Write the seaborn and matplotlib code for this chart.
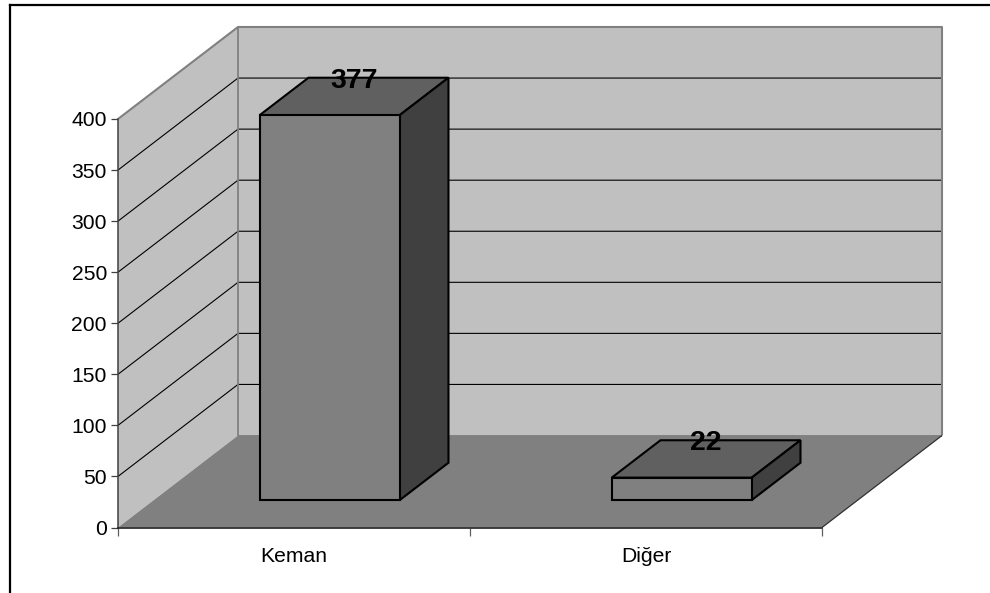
import matplotlib
matplotlib.use("Agg")
import matplotlib.pyplot as plt
from matplotlib.lines import Line2D
from matplotlib.patches import Polygon
import seaborn as sns

categories = ["Keman", "Diğer"]
values = [377, 22]
y_ticks = [0, 50, 100, 150, 200, 250, 300, 350, 400]

W, H = 990, 593
L_PX, R_PX, BOT_PX, TOP_PX = 118.0, 822.0, 527.5, 119.0
YMAX = y_ticks[-1]
PX_X = (R_PX - L_PX) / len(categories)      # px per category
PX_Y = (BOT_PX - TOP_PX) / YMAX             # px per unit
DX = 120.0 / PX_X                           # full depth in data units
DY = 92.0 / PX_Y
D_FRONT, D_BACK = 0.298, 0.704              # bar depth range
BAR_W = 140.0 / PX_X

WALL, FLOOR, FRONT, TOP, SIDE = "#C0C0C0", "#808080", "#808080", "#606060", "#404040"
EDGE = "#808080"

sns.set_theme(style="white")
plt.rcParams["font.family"] = ["Liberation Sans", "DejaVu Sans"]

fig = plt.figure(figsize=(W / 100, H / 100), dpi=100)
ax = fig.add_axes([L_PX / W, 1 - BOT_PX / H, (R_PX - L_PX) / W, (BOT_PX - TOP_PX) / H])
ax.patch.set_visible(False)


def proj(x, y, d=0.0):
    return (x + d * DX, y + d * DY)


def face(points, color, z, ec="none", lw=0.0):
    ax.add_patch(Polygon([proj(*p) for p in points], closed=True, facecolor=color,
                         edgecolor=ec, linewidth=lw, zorder=z, clip_on=False,
                         joinstyle="miter"))


def line(points, color, lw, z):
    xs, ys = zip(*[proj(*p) for p in points])
    ax.plot(xs, ys, color=color, lw=lw, zorder=z, clip_on=False, solid_capstyle="butt")


sns.barplot(x=categories, y=values, ax=ax, width=BAR_W, color=FRONT, saturation=1,
            edgecolor="black", linewidth=1.5, zorder=5)
ax.set_xlim(-0.5, len(categories) - 0.5)
ax.set_ylim(0, YMAX)

x0, x1 = ax.get_xlim()

# walls and floor
face([(x0, 0, 1), (x1, 0, 1), (x1, YMAX, 1), (x0, YMAX, 1)], WALL, 1)
face([(x0, 0, 0), (x0, 0, 1), (x0, YMAX, 1), (x0, YMAX, 0)], WALL, 1)
face([(x0, 0, 0), (x1, 0, 0), (x1, 0, 1), (x0, 0, 1)], FLOOR, 1.5)

# gridlines
for t in y_ticks[1:-1]:
    line([(x0, t, 0), (x0, t, 1), (x1, t, 1)], "black", 0.8, 2)

# wall edges
line([(x0, YMAX, 0), (x0, YMAX, 1), (x1, YMAX, 1), (x1, 0, 1)], EDGE, 1.5, 2.5)
line([(x0, YMAX, 1), (x0, 0, 1), (x1, 0, 1)], EDGE, 1.3, 2.5)
line([(x1, 0, 0), (x1, 0, 1)], "#303030", 0.9, 2.5)

# move the seaborn bars forward in depth and add top / side faces
for patch, v, cat_i in zip(ax.patches[:len(values)], values, range(len(values))):
    bx, _ = proj(patch.get_x(), 0, D_FRONT)
    by = proj(0, 0, D_FRONT)[1]
    patch.set_x(bx)
    patch.set_y(by)
    patch.set_clip_on(False)
    a = cat_i - BAR_W / 2
    b = cat_i + BAR_W / 2
    face([(a, v, D_FRONT), (b, v, D_FRONT), (b, v, D_BACK), (a, v, D_BACK)], TOP, 4, "black", 1.5)
    face([(b, 0, D_FRONT), (b, 0, D_BACK), (b, v, D_BACK), (b, v, D_FRONT)], SIDE, 4, "black", 1.5)
    lx = proj(cat_i, 0, (D_FRONT + D_BACK) / 2)[0]
    ly = proj(0, v, D_BACK)[1]
    ax.text(lx, ly, str(v), ha="center", va="center_baseline", fontsize=20.4, fontweight="bold",
            color="black", zorder=6, clip_on=False)

# axes
sns.despine(ax=ax, top=True, right=True)
ax.spines["left"].set_color("#404040")
ax.spines["bottom"].set_color("#202020")
ax.spines["left"].set_linewidth(1.1)
ax.spines["bottom"].set_linewidth(1.2)
for s in ax.spines.values():
    s.set_zorder(3)
ax.set_yticks(y_ticks)
ax.set_xticks([x0 + i for i in range(len(categories) + 1)])
ax.set_xticklabels([])
ax.set_xticks(list(range(len(categories))), labels=categories, minor=True)
ax.tick_params(axis="y", left=True, length=5, width=0.9, color="#404040", labelsize=15.2,
               pad=3, labelcolor="black")
ax.tick_params(axis="x", which="major", bottom=True, length=6, width=0.9, color="#606060")
ax.tick_params(axis="x", which="minor", bottom=False, length=0, labelsize=15.2, pad=14,
               labelcolor="black")
ax.set_xlabel("")
ax.set_ylabel("")

# outer chart frame (only left and top edges are visible)
frame_x, frame_y = 10.0 / W, 1 - 5.0 / H
fig.add_artist(Line2D([frame_x, frame_x], [0, frame_y], color="black", lw=1.6, solid_capstyle="projecting"))
fig.add_artist(Line2D([frame_x, 1], [frame_y, frame_y], color="black", lw=1.6, solid_capstyle="projecting"))

fig.savefig("out.png", dpi=100, facecolor="white")
